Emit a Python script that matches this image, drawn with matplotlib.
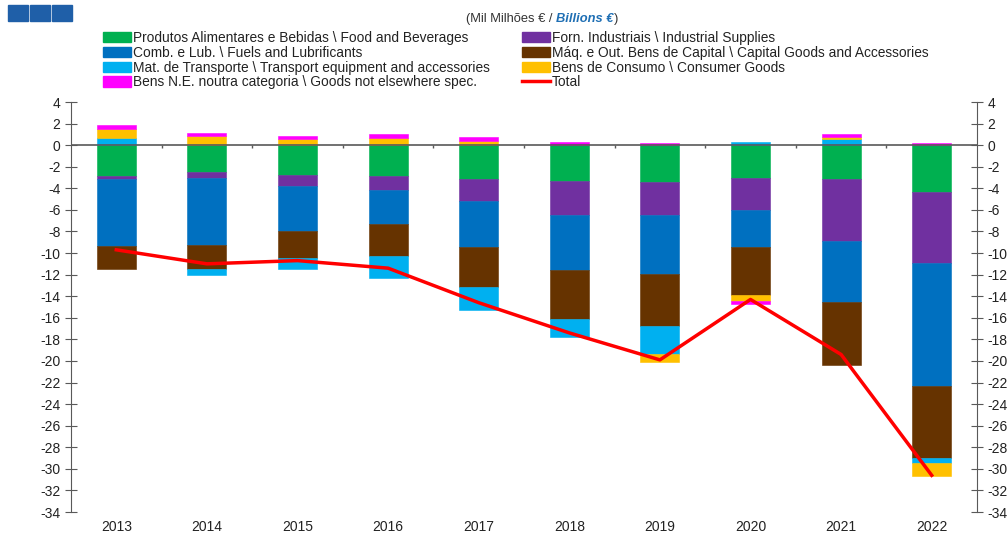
import numpy as np
import matplotlib.pyplot as plt
from matplotlib.patches import Patch, Rectangle
from matplotlib.lines import Line2D

plt.rcParams['font.family'] = ['Liberation Sans', 'DejaVu Sans']

# ==========================================
# DATA (Mil Milhões € / Billions €)
# ==========================================

years = ["2013", "2014", "2015", "2016", "2017",
         "2018", "2019", "2020", "2021", "2022"]

food = [-2.9, -2.45, -2.75, -2.85, -3.15, -3.3, -3.4, -3.0, -3.1, -4.3]
industrial = [-0.25, -0.6, -1.0, -1.3, -2.0, -3.15, -3.05, -3.0, -5.75, -6.6]
fuels = [-6.15, -6.2, -4.25, -3.15, -4.3, -5.1, -5.5, -3.4, -5.65, -11.45]
capital = [-2.15, -2.25, -2.45, -3.0, -3.65, -4.55, -4.85, -4.5, -5.85, -6.6]
transport = [0.68, -0.5, -1.0, -2.0, -2.15, -1.65, -2.6, 0.25, 0.53, -0.55]
consumer = [0.82, 0.86, 0.55, 0.68, 0.4, 0.06, -0.7, -0.5, 0.18, -1.15]
not_spec = [0.35, 0.31, 0.31, 0.37, 0.31, 0.22, 0.18, -0.3, 0.31, 0.18]
total = [-9.7, -11.0, -10.7, -11.4, -14.6, -17.4, -19.9, -14.3, -19.4, -30.6]

series = [
    ("Produtos Alimentares e Bebidas \\ Food and Beverages", food, "#00B050"),
    ("Forn. Industriais \\ Industrial Supplies", industrial, "#7030A0"),
    ("Comb. e Lub. \\ Fuels and Lubrificants", fuels, "#0070C0"),
    ("Máq. e Out. Bens de Capital \\ Capital Goods and Accessories", capital, "#663300"),
    ("Mat. de Transporte \\ Transport equipment and accessories", transport, "#00B0F0"),
    ("Bens de Consumo \\ Consumer Goods", consumer, "#FFC000"),
    ("Bens N.E. noutra categoria \\ Goods not elsewhere spec.", not_spec, "#FF00FF"),
]

# ==========================================
# PLOT
# ==========================================

fig = plt.figure(figsize=(10.08, 5.33), dpi=100)
ax = fig.add_axes([71 / 1008, 1 - 512 / 533, 906 / 1008, 410 / 533])

x = np.arange(len(years))
pos_base = np.zeros(len(years))
neg_base = np.zeros(len(years))

for name, vals, col in series:
    v = np.array(vals)
    bottom = np.where(v >= 0, pos_base, neg_base)
    ax.bar(x, v, 0.43, bottom=bottom, color=col, edgecolor=col,
           linewidth=0.4, zorder=2)
    pos_base = pos_base + np.where(v >= 0, v, 0)
    neg_base = neg_base + np.where(v < 0, v, 0)

ax.plot(x, total, color="#FF0000", linewidth=2.5, zorder=4)

# zero line with category separators
ax.axhline(0, color="#595959", linewidth=1.2, zorder=3)
ax.vlines(x[:-1] + 0.5, -0.3, 0, color="#595959", linewidth=1.0, zorder=3)

ax.set_xlim(-0.5, len(years) - 0.5)
ax.set_ylim(-34, 4)
yt = np.arange(-34, 5, 2)
ax.set_yticks(yt)
ax.set_yticklabels([str(t) for t in yt])
ax.set_xticks(x)
ax.set_xticklabels(years)

for s in ["top", "bottom", "right"]:
    ax.spines[s].set_visible(False)
ax.spines["left"].set_color("#595959")
ax.tick_params(axis="y", direction="inout", length=9, color="#595959",
               labelsize=10, labelcolor="#222222", pad=3)
ax.tick_params(axis="x", length=0, labelsize=10, labelcolor="#222222", pad=5.5)

ax2 = ax.twinx()
ax2.set_ylim(-34, 4)
ax2.set_yticks(yt)
ax2.set_yticklabels([str(t) for t in yt])
for s in ["top", "bottom", "left"]:
    ax2.spines[s].set_visible(False)
ax2.spines["right"].set_color("#595959")
ax2.tick_params(axis="y", direction="inout", length=9, color="#595959",
                labelsize=10, labelcolor="#222222", pad=3)

# ==========================================
# HEADER
# ==========================================

for i in range(3):
    fig.patches.append(Rectangle(((8 + i * 22) / 1008, 1 - 21 / 533),
                                 20 / 1008, 16 / 533,
                                 transform=fig.transFigure,
                                 color="#1F5FA8"))

t1 = fig.text(466 / 1008, 1 - 19 / 533, "(Mil Milhões € / ",
              fontsize=9.3, color="#333333", va="center")
fig.canvas.draw()
bb = t1.get_window_extent()
t2 = fig.text(bb.x1 / 1008, 1 - 19 / 533, "Billions €",
              fontsize=9.3, color="#1F6FB4", fontweight="bold",
              fontstyle="italic", va="center")
fig.canvas.draw()
bb2 = t2.get_window_extent()
fig.text(bb2.x1 / 1008, 1 - 19 / 533, ")",
         fontsize=9.3, color="#333333", va="center")

# ==========================================
# LEGEND
# ==========================================

h = {name: Patch(facecolor=col, edgecolor=col) for name, vals, col in series}
names = [s[0] for s in series]

left_names = [names[0], names[2], names[4], names[6]]
right_names = [names[1], names[3], names[5]]

leg_kw = dict(frameon=False, fontsize=9.9, handlelength=2.0,
              handleheight=0.8, handletextpad=0.2, labelspacing=0.06,
              borderaxespad=0, borderpad=0, labelcolor="#222222")

fig.legend([h[n] for n in left_names], left_names, loc="upper left",
           bbox_to_anchor=(103 / 1008, 1 - 31 / 533), **leg_kw)
fig.legend([h[n] for n in right_names] +
           [Line2D([], [], color="#FF0000", linewidth=2.5)],
           right_names + ["Total"], loc="upper left",
           bbox_to_anchor=(522 / 1008, 1 - 31 / 533), **leg_kw)

plt.savefig("out.png", dpi=100)
